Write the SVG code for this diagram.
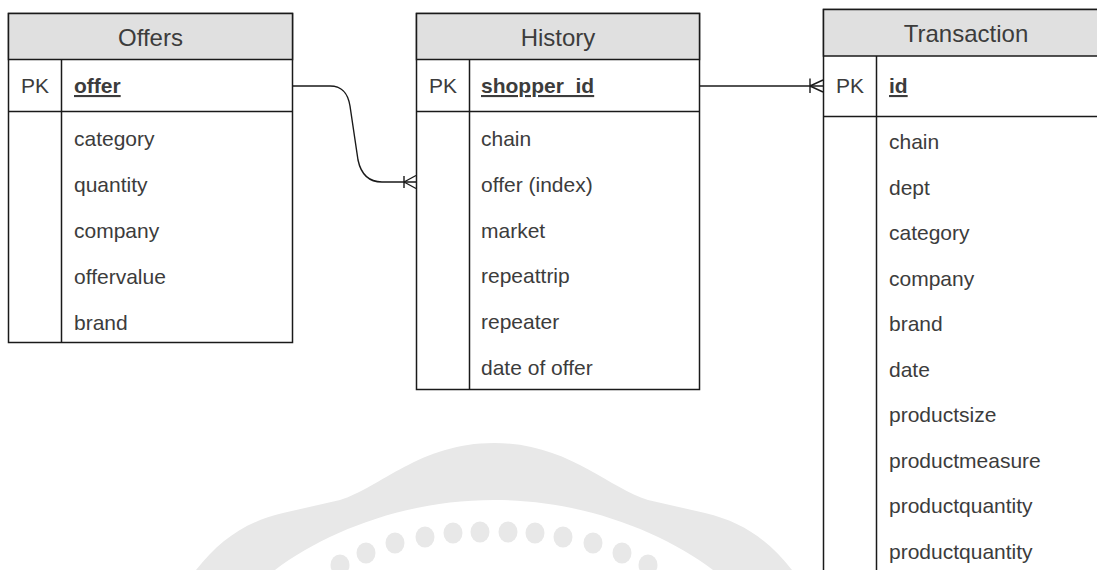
<svg xmlns="http://www.w3.org/2000/svg" width="1097" height="570" viewBox="0 0 1097 570">
<style>
.box{fill:#fff;stroke:#1a1a1a;stroke-width:1.5}
.hdr{fill:#e0e0e0;stroke:#1a1a1a;stroke-width:1.5}
.ln{stroke:#1a1a1a;stroke-width:1.5;fill:none}
.t{font-family:"Liberation Sans",Arial,sans-serif;font-size:21px;fill:#3c3c3c}
.h{font-family:"Liberation Sans",Arial,sans-serif;font-size:24px;fill:#3c3c3c;text-anchor:middle}
.pk{font-family:"Liberation Sans",Arial,sans-serif;font-size:21px;fill:#3c3c3c;text-anchor:middle}
.key{font-weight:bold;text-decoration:underline}
.wm{fill:#e8e8e8}
.conn{stroke:#1a1a1a;stroke-width:1.4;fill:none}
</style>
<rect width="1097" height="570" fill="#fff"/>
<g id="watermark">
<path class="wm" d="M196,570 C220,540 245,522 283,513 L340,500 C380,488 420,443 494,443 C568,443 608,488 648,500 L705,513 C743,522 768,540 792,570 L713,570 C660,530 580,500 494,500 C408,500 328,530 275,570 Z"/>
<ellipse class="wm" cx="340" cy="565" rx="9.5" ry="10.5"/>
<ellipse class="wm" cx="366" cy="553" rx="9.5" ry="10.5"/>
<ellipse class="wm" cx="395" cy="543" rx="9.5" ry="10.5"/>
<ellipse class="wm" cx="425" cy="537" rx="9.5" ry="10.5"/>
<ellipse class="wm" cx="453" cy="533" rx="9.5" ry="10.5"/>
<ellipse class="wm" cx="480" cy="532" rx="9.5" ry="10.5"/>
<ellipse class="wm" cx="508" cy="532" rx="9.5" ry="10.5"/>
<ellipse class="wm" cx="535" cy="533" rx="9.5" ry="10.5"/>
<ellipse class="wm" cx="563" cy="537" rx="9.5" ry="10.5"/>
<ellipse class="wm" cx="593" cy="543" rx="9.5" ry="10.5"/>
<ellipse class="wm" cx="622" cy="553" rx="9.5" ry="10.5"/>
<ellipse class="wm" cx="648" cy="565" rx="9.5" ry="10.5"/>
</g>
<g id="offers">
<rect class="box" x="8.5" y="13.5" width="284" height="329"/>
<rect class="hdr" x="8.5" y="13.5" width="284" height="46"/>
<line class="ln" x1="8.5" y1="111.5" x2="292.5" y2="111.5"/>
<line class="ln" x1="61.5" y1="59.5" x2="61.5" y2="342.5"/>
<text class="h" x="150.5" y="46">Offers</text>
<text class="pk" x="35" y="93">PK</text>
<text class="t key" x="74" y="93">offer</text>
<text class="t" x="74" y="146">category</text>
<text class="t" x="74" y="192">quantity</text>
<text class="t" x="74" y="238">company</text>
<text class="t" x="74" y="284">offervalue</text>
<text class="t" x="74" y="330">brand</text>
</g>
<g id="history">
<rect class="box" x="416.5" y="13.5" width="283" height="376"/>
<rect class="hdr" x="416.5" y="13.5" width="283" height="46"/>
<line class="ln" x1="416.5" y1="111.5" x2="699.5" y2="111.5"/>
<line class="ln" x1="469.5" y1="59.5" x2="469.5" y2="389.5"/>
<text class="h" x="558" y="46">History</text>
<text class="pk" x="443" y="93">PK</text>
<text class="t key" x="481" y="93">shopper_id</text>
<text class="t" x="481" y="146">chain</text>
<text class="t" x="481" y="192">offer (index)</text>
<text class="t" x="481" y="238">market</text>
<text class="t" x="481" y="283">repeattrip</text>
<text class="t" x="481" y="329">repeater</text>
<text class="t" x="481" y="375">date of offer</text>
</g>
<g id="transaction">
<rect class="box" x="823.5" y="9.5" width="285" height="580"/>
<rect class="hdr" x="823.5" y="9.5" width="285" height="46.5"/>
<line class="ln" x1="823.5" y1="116.5" x2="1108" y2="116.5"/>
<line class="ln" x1="876.5" y1="56" x2="876.5" y2="590"/>
<text class="h" x="966" y="42">Transaction</text>
<text class="pk" x="850" y="93">PK</text>
<text class="t key" x="889" y="93">id</text>
<text class="t" x="889" y="149">chain</text>
<text class="t" x="889" y="195">dept</text>
<text class="t" x="889" y="240">category</text>
<text class="t" x="889" y="286">company</text>
<text class="t" x="889" y="331">brand</text>
<text class="t" x="889" y="377">date</text>
<text class="t" x="889" y="422">productsize</text>
<text class="t" x="889" y="468">productmeasure</text>
<text class="t" x="889" y="513">productquantity</text>
<text class="t" x="889" y="559">productquantity</text>
</g>
<g id="connectors">
<path class="conn" d="M293,86 L330,86 C343,86 348,94 350,106 L358,160 C361,174 369,182 382,182 L416,182"/>
<path class="conn" d="M404,176 L404,188 M404,182 L416,175.5 M404,182 L416,188.5"/>
<path class="conn" d="M700,86 L823,86"/>
<path class="conn" d="M810,78.5 L810,93 M810,86 L823,80 M810,86 L823,92"/>
</g>
</svg>
